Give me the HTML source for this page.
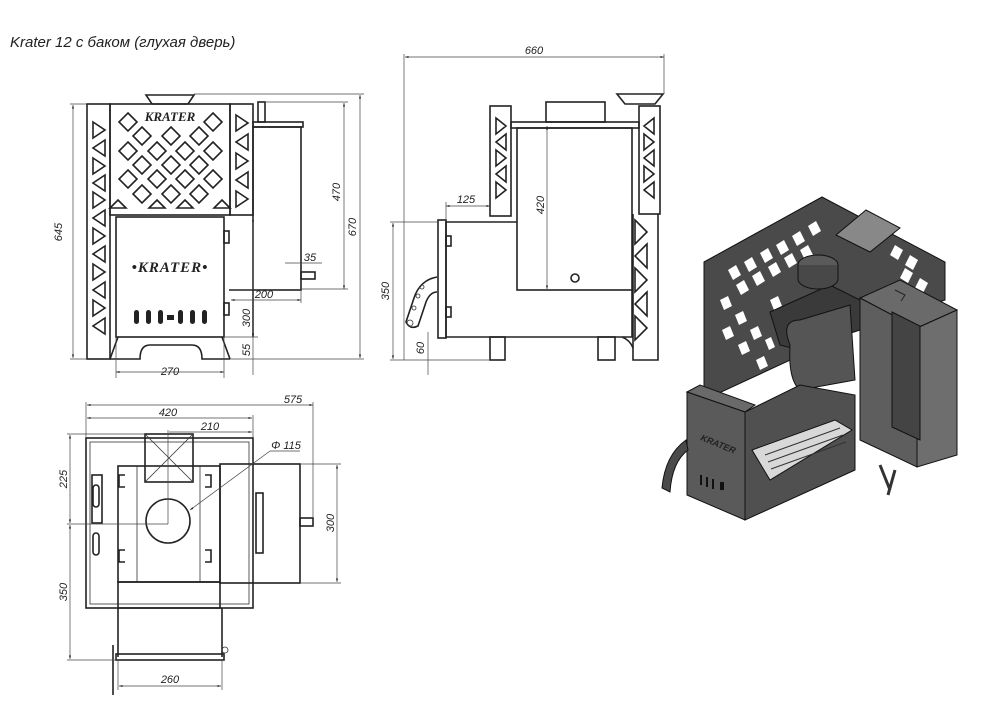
<!DOCTYPE html>
<html><head><meta charset="utf-8"><style>
html,body{margin:0;padding:0;background:#fff}
svg{display:block}
text{font-family:"Liberation Sans","DejaVu Sans",sans-serif;font-style:italic;fill:#222}
.l{fill:none;stroke:#222;stroke-width:1.6}
.t{fill:none;stroke:#333;stroke-width:0.8}
.d{fill:none;stroke:#444;stroke-width:0.7}
</style></head><body>
<svg width="986" height="720" viewBox="0 0 986 720" xmlns="http://www.w3.org/2000/svg">
<defs>
<marker id="a" viewBox="0 0 10 10" refX="10" refY="5" markerWidth="7" markerHeight="5" orient="auto-start-reverse"><path d="M0,2 L10,5 L0,8 z" fill="#222"/></marker>
</defs>
<text x="10" y="47" font-size="15">Krater 12 с баком (глухая дверь)</text>

<!-- ===== FRONT VIEW ===== -->
<polygon class="l" points="146,95 194,95 188,104 152,104"/>
<rect class="l" x="87" y="104" width="23" height="255"/>
<rect class="l" x="110" y="104" width="120" height="111"/>
<rect class="l" x="230" y="104" width="23" height="111"/>
<!-- diamonds -->
<g class="l" stroke-width="1.3">
<path d="M128,113 l9,9 l-9,9 l-9,-9z M213,113 l9,9 l-9,9 l-9,-9z"/>
<path d="M142,127 l9,9 l-9,9 l-9,-9z M171,127 l9,9 l-9,9 l-9,-9z M199,127 l9,9 l-9,9 l-9,-9z"/>
<path d="M128,142 l9,9 l-9,9 l-9,-9z M157,142 l9,9 l-9,9 l-9,-9z M185,142 l9,9 l-9,9 l-9,-9z M213,142 l9,9 l-9,9 l-9,-9z"/>
<path d="M142,156 l9,9 l-9,9 l-9,-9z M171,156 l9,9 l-9,9 l-9,-9z M199,156 l9,9 l-9,9 l-9,-9z"/>
<path d="M128,170 l9,9 l-9,9 l-9,-9z M157,170 l9,9 l-9,9 l-9,-9z M185,170 l9,9 l-9,9 l-9,-9z M213,170 l9,9 l-9,9 l-9,-9z"/>
<path d="M142,185 l9,9 l-9,9 l-9,-9z M171,185 l9,9 l-9,9 l-9,-9z M199,185 l9,9 l-9,9 l-9,-9z"/>
<path d="M118,200 l8,8 h-16z M157,200 l8,8 h-16z M185,200 l8,8 h-16z M222,200 l8,8 h-16z"/>
</g>
<text x="170" y="121" font-size="13" font-weight="bold" font-style="normal" text-anchor="middle" font-family="Liberation Serif" style="font-family:'Liberation Serif',serif">KRATER</text>
<!-- left strip triangles -->
<g class="l" stroke-width="1.2">
<path d="M93,122 l12,8 l-12,8z M105,140 l-12,8 l12,8z M93,158 l12,8 l-12,8z M105,175 l-12,8 l12,8z M93,192 l12,8 l-12,8z M105,210 l-12,8 l12,8z M93,228 l12,8 l-12,8z M105,246 l-12,8 l12,8z M93,264 l12,8 l-12,8z M105,282 l-12,8 l12,8z M93,300 l12,8 l-12,8z M105,318 l-12,8 l12,8z"/>
<path d="M236,115 l12,8 l-12,8z M248,134 l-12,8 l12,8z M236,153 l12,8 l-12,8z M248,172 l-12,8 l12,8z M236,191 l12,8 l-12,8z"/>
</g>
<!-- door -->
<rect class="l" x="116" y="217" width="108" height="120"/>
<text x="170" y="272" font-size="15" font-weight="bold" font-style="normal" text-anchor="middle" style="font-family:'Liberation Serif',serif" letter-spacing="1">•KRATER•</text>
<g fill="#222"><rect x="134" y="310" width="5" height="14" rx="2.5"/><rect x="146" y="310" width="5" height="14" rx="2.5"/><rect x="158" y="310" width="5" height="14" rx="2.5"/><rect x="167" y="315" width="7" height="5"/><rect x="178" y="310" width="5" height="14" rx="2.5"/><rect x="190" y="310" width="5" height="14" rx="2.5"/><rect x="202" y="310" width="5" height="14" rx="2.5"/></g>
<rect class="l" x="224" y="231" width="5" height="12"/><rect class="l" x="224" y="303" width="5" height="12"/>
<path class="l" d="M110,359 L118,337 M230,359 L222,337 M110,359 H140 Q140,345 150,345 H192 Q202,345 202,359 H230"/>
<!-- tank -->
<rect class="l" x="258" y="102" width="7" height="20"/>
<rect class="l" x="253" y="122" width="50" height="5"/>
<rect class="l" x="253" y="127" width="48" height="163"/>
<rect class="l" x="301" y="272" width="14" height="7"/>
<path class="l" d="M229,290 H253 V337"/>
<!-- dims -->
<g class="d">
<line x1="73" y1="105" x2="73" y2="358" marker-start="url(#a)" marker-end="url(#a)"/>
<line x1="70" y1="104" x2="87" y2="104"/><line x1="70" y1="359" x2="87" y2="359"/>
<line x1="360" y1="95" x2="360" y2="358" marker-start="url(#a)" marker-end="url(#a)"/>
<line x1="194" y1="94" x2="364" y2="94"/><line x1="230" y1="359" x2="364" y2="359"/>
<line x1="344" y1="103" x2="344" y2="289" marker-start="url(#a)" marker-end="url(#a)"/>
<line x1="265" y1="102" x2="348" y2="102"/><line x1="301" y1="289" x2="348" y2="289"/>
<line x1="253" y1="218" x2="253" y2="337" marker-start="url(#a)" marker-end="url(#a)"/>
<line x1="253" y1="337" x2="253" y2="375"/><line x1="225" y1="337" x2="258" y2="337"/>
<line x1="116" y1="372" x2="224" y2="372" marker-start="url(#a)" marker-end="url(#a)"/>
<line x1="116" y1="337" x2="116" y2="378"/><line x1="224" y1="337" x2="224" y2="378"/>
<line x1="231" y1="300" x2="301" y2="300" marker-start="url(#a)" marker-end="url(#a)"/>
<line x1="301" y1="290" x2="301" y2="303"/>
<line x1="285" y1="263" x2="322" y2="263"/>
</g>
<text x="62" y="232" font-size="11" transform="rotate(-90 62 232)" text-anchor="middle">645</text>
<text x="356" y="227" font-size="11" transform="rotate(-90 356 227)" text-anchor="middle">670</text>
<text x="340" y="192" font-size="11" transform="rotate(-90 340 192)" text-anchor="middle">470</text>
<text x="250" y="318" font-size="11" transform="rotate(-90 250 318)" text-anchor="middle">300</text>
<text x="250" y="350" font-size="11" transform="rotate(-90 250 350)" text-anchor="middle">55</text>
<text x="170" y="375" font-size="11" text-anchor="middle">270</text>
<text x="264" y="298" font-size="11" text-anchor="middle">200</text>
<text x="310" y="261" font-size="11" text-anchor="middle">35</text>

<!-- ===== SIDE VIEW ===== -->
<polygon class="l" points="617,94 663,94 655,104 625,104"/>
<rect class="l" x="490" y="106" width="21" height="110"/>
<rect class="l" x="639" y="106" width="21" height="108"/>
<rect class="l" x="546" y="102" width="59" height="20"/>
<rect class="l" x="511" y="122" width="128" height="6"/>
<rect class="l" x="517" y="128" width="115" height="162"/>
<circle class="l" cx="575" cy="278" r="4"/>
<g class="l" stroke-width="1.2">
<path d="M496,118 l10,8 l-10,8z M496,150 l10,8 l-10,8z M496,182 l10,8 l-10,8z M506,134 l-10,8 l10,8z M506,166 l-10,8 l10,8z"/>
<path d="M654,118 l-10,8 l10,8z M654,150 l-10,8 l10,8z M654,182 l-10,8 l10,8z M644,134 l10,8 l-10,8z M644,166 l10,8 l-10,8z"/>
<path d="M635,220 l12,12 l-12,12z M647,244 l-12,12 l12,12z M635,268 l12,12 l-12,12z M647,292 l-12,12 l12,12z M635,316 l12,12 l-12,12z"/>
</g>
<path class="l" d="M633,214 V360 H658 V214"/>
<path class="l" d="M446,222 H517 M632,290 V337 H446 V222"/>
<rect class="l" x="438" y="220" width="8" height="118"/>
<rect class="l" x="446" y="236" width="5" height="10"/><rect class="l" x="446" y="307" width="5" height="10"/>
<path class="l" d="M437,277 Q420,280 414,298 L406,322 Q410,330 418,326 L426,302 Q430,292 437,292"/>
<circle class="t" cx="410" cy="323" r="3"/><circle class="t" cx="414" cy="308" r="2"/><circle class="t" cx="418" cy="296" r="2"/><circle class="t" cx="422" cy="287" r="2"/>
<rect class="l" x="490" y="337" width="15" height="23"/><rect class="l" x="598" y="337" width="17" height="23"/>
<path class="l" d="M622,337 Q630,340 633,348"/>
<g class="d">
<line x1="405" y1="57" x2="664" y2="57" marker-start="url(#a)" marker-end="url(#a)"/>
<line x1="404" y1="54" x2="404" y2="360"/><line x1="664" y1="54" x2="664" y2="94"/>
<line x1="393" y1="223" x2="393" y2="359" marker-start="url(#a)" marker-end="url(#a)"/>
<line x1="390" y1="222" x2="438" y2="222"/><line x1="390" y1="360" x2="490" y2="360"/>
<line x1="428" y1="332" x2="428" y2="375"/>
<line x1="446" y1="206" x2="490" y2="206" marker-start="url(#a)" marker-end="url(#a)"/>
<line x1="446" y1="202" x2="446" y2="220"/>
<line x1="547" y1="126" x2="547" y2="289" marker-start="url(#a)" marker-end="url(#a)"/>
</g>
<text x="534" y="54" font-size="11" text-anchor="middle">660</text>
<text x="466" y="203" font-size="11" text-anchor="middle">125</text>
<text x="544" y="205" font-size="11" transform="rotate(-90 544 205)" text-anchor="middle">420</text>
<text x="389" y="291" font-size="11" transform="rotate(-90 389 291)" text-anchor="middle">350</text>
<text x="424" y="348" font-size="11" transform="rotate(-90 424 348)" text-anchor="middle">60</text>

<!-- ===== TOP VIEW ===== -->
<rect class="l" x="86" y="438" width="167" height="170"/>
<rect class="t" x="90" y="442" width="159" height="162"/>
<rect class="l" x="118" y="466" width="102" height="116"/>
<line class="t" x1="137" y1="466" x2="137" y2="582"/><line class="t" x1="200" y1="466" x2="200" y2="582"/>
<rect class="l" x="145" y="434" width="48" height="48"/>
<path class="t" d="M145,434 L193,482 M193,434 L145,482"/>
<circle class="l" cx="168" cy="521" r="22"/>
<rect class="l" x="220" y="464" width="80" height="119"/>
<rect class="l" x="256" y="493" width="7" height="60"/>
<rect class="l" x="300" y="518" width="13" height="8"/>
<rect class="l" x="92" y="475" width="10" height="48"/>
<rect class="l" x="93" y="485" width="6" height="22" rx="3"/><rect class="l" x="93" y="533" width="6" height="22" rx="3"/>
<path class="l" d="M125,475 h-6 v12 h6 M125,550 h-6 v12 h6 M205,475 h6 v12 h-6 M205,550 h6 v12 h-6"/>
<rect class="l" x="118" y="582" width="102" height="26"/>
<path class="l" d="M118,608 V657 M222,608 V657"/>
<rect class="l" x="116" y="654" width="108" height="6"/>
<line class="l" x1="113" y1="645" x2="113" y2="695"/>
<circle class="t" cx="225" cy="650" r="3"/>
<g class="d">
<line x1="87" y1="405" x2="313" y2="405" marker-start="url(#a)" marker-end="url(#a)"/>
<line x1="86" y1="402" x2="86" y2="438"/><line x1="313" y1="402" x2="313" y2="518"/>
<line x1="87" y1="418" x2="252" y2="418" marker-start="url(#a)" marker-end="url(#a)"/>
<line x1="253" y1="415" x2="253" y2="438"/>
<line x1="169" y1="432" x2="252" y2="432" marker-end="url(#a)"/>
<line x1="168" y1="430" x2="168" y2="524"/>
<line x1="70" y1="435" x2="70" y2="523" marker-start="url(#a)" marker-end="url(#a)"/>
<line x1="70" y1="525" x2="70" y2="659" marker-start="url(#a)" marker-end="url(#a)"/>
<line x1="67" y1="434" x2="145" y2="434"/><line x1="67" y1="524" x2="168" y2="524"/><line x1="67" y1="660" x2="116" y2="660"/>
<line x1="337" y1="465" x2="337" y2="582" marker-start="url(#a)" marker-end="url(#a)"/>
<line x1="300" y1="464" x2="341" y2="464"/><line x1="300" y1="583" x2="341" y2="583"/>
<line x1="119" y1="686" x2="221" y2="686" marker-start="url(#a)" marker-end="url(#a)"/>
<line x1="118" y1="660" x2="118" y2="690"/><line x1="222" y1="660" x2="222" y2="690"/>
<line x1="300" y1="451" x2="270" y2="451"/>
<line x1="270" y1="451" x2="190" y2="510" marker-end="url(#a)"/>
</g>
<text x="293" y="403" font-size="11" text-anchor="middle">575</text>
<text x="168" y="416" font-size="11" text-anchor="middle">420</text>
<text x="210" y="430" font-size="11" text-anchor="middle">210</text>
<text x="286" y="449" font-size="11" text-anchor="middle">Φ 115</text>
<text x="67" y="479" font-size="11" transform="rotate(-90 67 479)" text-anchor="middle">225</text>
<text x="67" y="592" font-size="11" transform="rotate(-90 67 592)" text-anchor="middle">350</text>
<text x="334" y="523" font-size="11" transform="rotate(-90 334 523)" text-anchor="middle">300</text>
<text x="170" y="683" font-size="11" text-anchor="middle">260</text>

<!-- ===== ISO VIEW ===== -->
<g stroke="#111" stroke-width="1">
<polygon points="704,262 822,197 945,262 945,300 855,330 704,400" fill="#4a4a4a"/>
<g fill="#fff" stroke="none">
<path d="M728,270 l8,-5 l5,10 l-8,5z M744,262 l8,-5 l5,10 l-8,5z M760,253 l8,-5 l5,10 l-8,5z M776,245 l8,-5 l5,10 l-8,5z M792,236 l8,-5 l5,10 l-8,5z"/>
<path d="M736,285 l8,-5 l5,10 l-8,5z M752,276 l8,-5 l5,10 l-8,5z M768,267 l8,-5 l5,10 l-8,5z M784,258 l8,-5 l5,10 l-8,5z M800,250 l8,-5 l5,10 l-8,5z M808,226 l8,-5 l5,10 l-8,5z"/>
<path d="M895,245 l8,5 l-5,10 l-8,-5z M910,255 l8,5 l-5,10 l-8,-5z M905,268 l8,5 l-5,10 l-8,-5z M920,278 l8,5 l-5,10 l-8,-5z"/>
<path d="M720,300 l8,-4 l4,10 l-8,4z M735,315 l8,-4 l4,10 l-8,4z M750,330 l8,-4 l4,10 l-8,4z M722,330 l8,-4 l4,10 l-8,4z M738,345 l8,-4 l4,10 l-8,4z M756,360 l8,-4 l4,10 l-8,4z M770,300 l8,-4 l4,10 l-8,4z M765,340 l6,-3 l4,10 l-6,3z"/>
</g>
<polygon points="770,312 830,285 860,300 860,330 800,350 780,345" fill="#3a3a3a"/>
<path d="M790,345 Q780,320 800,320 L850,305 L855,380 L800,390 Q788,380 790,345z" fill="#555"/>
<ellipse cx="818" cy="265" rx="20" ry="10" fill="#5a5a5a"/>
<path d="M798,265 v14 a20,10 0 0 0 40,0 v-14" fill="#484848"/>
<polygon points="836,235 866,210 900,228 870,252" fill="#888"/>
<polygon points="745,412 800,385 855,395 855,470 745,520" fill="#505050"/>
<polygon points="752,450 835,420 852,430 770,480" fill="#d8d8d8"/>
<g stroke="#333"><line x1="765" y1="455" x2="840" y2="428"/><line x1="768" y1="462" x2="843" y2="435"/><line x1="771" y1="469" x2="846" y2="442"/></g>
<polygon points="687,392 700,385 755,405 745,412" fill="#6a6a6a"/>
<polygon points="687,392 745,412 745,520 687,495" fill="#5a5a5a"/>
<text x="700" y="440" font-size="9" font-weight="bold" font-style="normal" fill="#111" stroke="none" transform="rotate(22 700 440)">KRATER</text>
<g fill="#111" stroke="none"><rect x="700" y="475" width="2" height="10"/><rect x="706" y="477" width="2" height="10"/><rect x="712" y="479" width="2" height="10"/><rect x="720" y="482" width="4" height="8"/></g>
<path d="M686,440 Q665,455 662,488 L670,492 Q672,462 688,450z" fill="#4a4a4a"/>
<polygon points="860,298 900,280 957,310 917,328" fill="#6a6a6a"/>
<polygon points="860,298 917,328 917,467 860,440" fill="#5e5e5e"/>
<polygon points="917,328 957,310 957,455 917,467" fill="#6e6e6e"/>
<polygon points="892,312 920,326 920,440 892,427" fill="#444"/>
<path d="M895,290 l10,5 l-4,6" fill="none" stroke="#222"/>
<path d="M880,465 L890,490 M895,470 L888,495" stroke="#333" stroke-width="3"/>
</g>
</svg>
</body></html>
